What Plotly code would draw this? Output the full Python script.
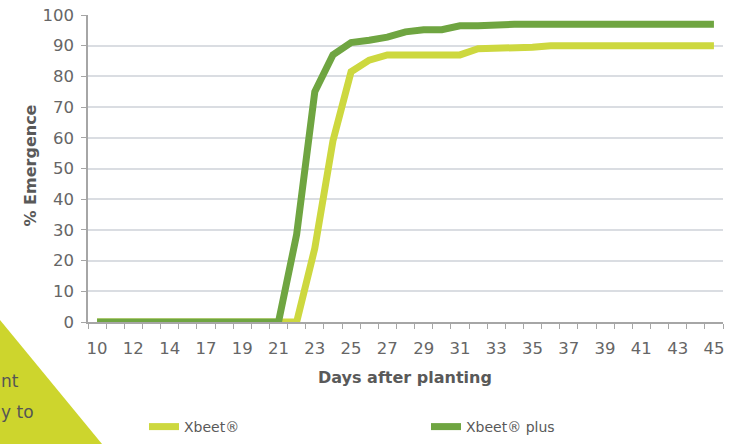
import plotly.graph_objects as go

days = [10, 11, 12, 13, 14, 15, 17, 18, 19, 20, 21, 22, 23, 24, 25, 26, 27, 28, 29, 30,
        31, 32, 33, 34, 35, 36, 37, 38, 39, 40, 41, 42, 43, 44, 45]
xbeet = [0, 0, 0, 0, 0, 0, 0, 0, 0, 0, 0, 0, 24, 59, 81.5, 85.3, 87, 87, 87, 87,
         87, 89, 89, 89.5, 89.5, 90, 90, 90, 90, 90, 90, 90, 90, 90, 90]
xbeet_plus = [0, 0, 0, 0, 0, 0, 0, 0, 0, 0, 0, 28.5, 75, 87, 91, 91.8, 92.8, 94.5, 95.2, 95.2,
              96.5, 96.5, 97, 97, 97, 97, 97, 97, 97, 97, 97, 97, 97, 97, 97]
series_names = ["Xbeet®", "Xbeet® plus"]
y_ticks = list(range(0, 101, 10))

cats = [str(d) for d in days]
tick_text = [c if i % 2 == 0 else "" for i, c in enumerate(cats)]

FONT = "DejaVu Sans"
GREY = "#595959"
W, H = 735, 444
L, R, T, B = 88, 12, 15, 122
PW, PH = W - L - R, H - T - B


def px(x):
    return (x - L) / PW


def py(y):
    return (H - B - y) / PH


fig = go.Figure()
fig.add_trace(go.Scatter(x=cats, y=xbeet, name=series_names[0], mode="lines",
                         line=dict(color="#cdd83f", width=7)))
fig.add_trace(go.Scatter(x=cats, y=xbeet_plus, name=series_names[1], mode="lines",
                         line=dict(color="#6fa541", width=7)))

fig.update_layout(
    width=W, height=H,
    margin=dict(l=L, r=R, t=T, b=B, autoexpand=False),
    paper_bgcolor="white", plot_bgcolor="white",
    font=dict(family=FONT, color=GREY, size=15),
    showlegend=True,
    legend=dict(orientation="h", x=px(144), xanchor="left", y=py(427), yanchor="middle",
                entrywidth=237, entrywidthmode="pixels", font=dict(size=14, color=GREY),
                bgcolor="rgba(0,0,0,0)"),
    xaxis=dict(type="category", categoryorder="array", categoryarray=cats,
               tickmode="array", tickvals=cats, ticktext=tick_text, tickangle=0,
               tickson="boundaries", ticks="outside", ticklen=5, tickcolor="#a6a6a6",
               showline=True, linecolor="#a6a6a6", linewidth=1.5, showgrid=False,
               ticklabelstandoff=10,
               range=[-0.5, len(cats) - 0.5], tickfont=dict(size=16.5, color="#666666")),
    yaxis=dict(range=[0, 100], tickvals=y_ticks, ticks="outside", ticklen=5,
               tickcolor="#a6a6a6", showline=True, linecolor="#a6a6a6", linewidth=1.5,
               gridcolor="#dadde2", gridwidth=1.5, zeroline=False, ticklabelstandoff=4,
               tickfont=dict(size=16.5, color="#666666")),
    shapes=[dict(type="path", xref="paper", yref="paper",
                 path=f"M {px(0)} {py(320)} L {px(102)} {py(444)} L {px(0)} {py(444)} Z",
                 fillcolor="#cdd52d", line=dict(width=0), layer="below")],
    annotations=[
        dict(text="<b>% Emergence</b>", x=px(18), y=py(166), xref="paper", yref="paper",
             textangle=-90, showarrow=False, font=dict(size=16, color=GREY)),
        dict(text="<b>Days after planting</b>", x=px(405), y=py(377), xref="paper", yref="paper",
             showarrow=False, yanchor="middle", font=dict(size=16, color=GREY)),
        dict(text="nt", x=px(0), y=py(381), xref="paper", yref="paper", xanchor="left",
             yanchor="middle", showarrow=False, borderpad=0, font=dict(size=17, color="#555555")),
        dict(text="y to", x=px(0), y=py(412), xref="paper", yref="paper", xanchor="left",
             yanchor="middle", showarrow=False, borderpad=0, font=dict(size=17, color="#555555")),
    ],
)

fig.write_html("out.html")
